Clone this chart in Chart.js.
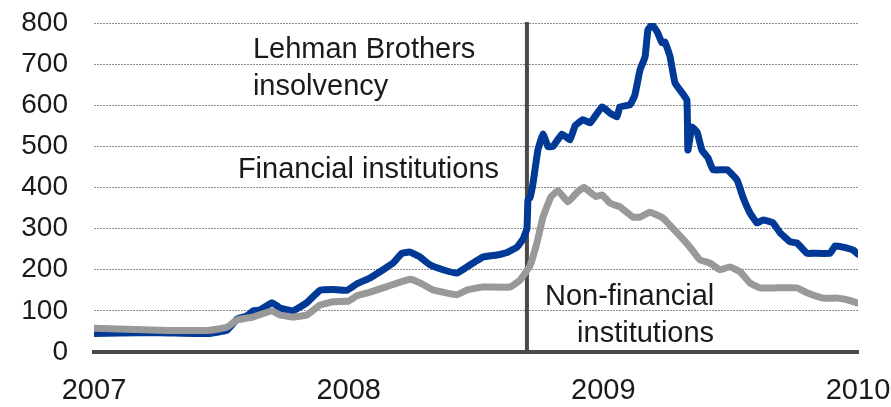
<!DOCTYPE html>
<html>
<head>
<meta charset="utf-8">
<script src="https://cdn.jsdelivr.net/npm/chart.js@4"></script>
<style>
    html, body { margin: 0; padding: 0; background: #fff; }
    #wrap { width: 891px; height: 407px; }
</style>
</head>
<body>
<div id="wrap"><canvas id="chart" width="891" height="407"></canvas></div>
<script>
// decimal years and index values
const finYears = [
    2007.000, 2007.102, 2007.259, 2007.455, 2007.522, 2007.562, 2007.601, 2007.624, 2007.652, 2007.699,
    2007.730, 2007.781, 2007.836, 2007.887, 2007.938, 2007.993, 2008.033, 2008.084, 2008.135, 2008.174,
    2008.209, 2008.241, 2008.280, 2008.319, 2008.370, 2008.425, 2008.465, 2008.527, 2008.582, 2008.622,
    2008.661, 2008.685, 2008.700, 2008.704, 2008.712, 2008.724, 2008.743, 2008.763, 2008.783, 2008.802,
    2008.838, 2008.869, 2008.889, 2008.920, 2008.948, 2008.995, 2009.026, 2009.054, 2009.065, 2009.105,
    2009.124, 2009.144, 2009.164, 2009.175, 2009.191, 2009.211, 2009.230, 2009.242, 2009.262, 2009.281,
    2009.301, 2009.328, 2009.332, 2009.348, 2009.368, 2009.387, 2009.411, 2009.431, 2009.486, 2009.525,
    2009.548, 2009.576, 2009.603, 2009.627, 2009.666, 2009.694, 2009.733, 2009.760, 2009.800, 2009.823,
    2009.890, 2009.910, 2009.941, 2009.980, 2010.000,
];
const finValues = [
    45, 46, 47, 45, 53, 80, 88, 100, 102, 120,
    107, 100, 120, 150, 152, 150, 166, 180, 200, 216,
    240, 243, 231, 212, 200, 192, 207, 231, 236, 242,
    255, 275, 300, 370, 375, 411, 491, 530, 499, 500,
    530, 516, 550, 565, 557, 596, 581, 572, 596, 601,
    625, 686, 718, 783, 796, 779, 752, 754, 718, 655,
    637, 613, 491, 547, 535, 491, 472, 443, 443, 418,
    377, 338, 314, 321, 314, 290, 268, 265, 240, 240,
    240, 258, 255, 248, 238,
];

const nonYears = [
    2007.000, 2007.259, 2007.455, 2007.522, 2007.562, 2007.624, 2007.699, 2007.730, 2007.781, 2007.836,
    2007.887, 2007.938, 2008.000, 2008.033, 2008.075, 2008.135, 2008.202, 2008.241, 2008.280, 2008.331,
    2008.425, 2008.465, 2008.527, 2008.633, 2008.673, 2008.712, 2008.739, 2008.763, 2008.794, 2008.822,
    2008.861, 2008.900, 2008.924, 2008.971, 2008.995, 2009.026, 2009.065, 2009.116, 2009.144, 2009.183,
    2009.234, 2009.289, 2009.340, 2009.379, 2009.419, 2009.458, 2009.497, 2009.537, 2009.576, 2009.615,
    2009.682, 2009.760, 2009.800, 2009.863, 2009.918, 2009.957, 2010.000,
];
const nonValues = [
    58, 53, 53, 60, 78, 85, 100, 90, 85, 90,
    114, 122, 124, 137, 144, 156, 170, 177, 168, 151,
    139, 151, 158, 158, 175, 210, 265, 328, 377, 392,
    365, 390, 400, 378, 382, 362, 353, 328, 328, 340,
    326, 290, 255, 224, 216, 200, 207, 195, 168, 156,
    156, 156, 144, 131, 131, 127, 119,
];

const yTicks = [0, 100, 200, 300, 400, 500, 600, 700, 800];
const xTicks = [2007, 2008, 2009, 2010];
const LEHMAN = 2008.7;

// text notes anchored in data units: [text, year (left edge), value (middle)]
const notes = [
    ['Lehman Brothers', 2007.624, 735],
    ['insolvency', 2007.624, 645],
    ['Financial institutions', 2007.565, 443],
    ['Non-financial', 2008.771, 133],
    ['institutions', 2008.897, 44],
];

const FONT = '"Liberation Sans", Arial, sans-serif';
const INK = '#1a1a1a';
const AXIS = '#4d4948';

const toPoints = (xs, ys) => xs.map((x, i) => ({ x, y: ys[i] }));

const lehmanLine = {
    id: 'lehmanLine',
    beforeDatasetsDraw(chart) {
        const { ctx, scales: { x, y } } = chart;
        const px = x.getPixelForValue(LEHMAN);
        ctx.save();
        ctx.strokeStyle = AXIS;
        ctx.lineWidth = 4;
        ctx.beginPath();
        ctx.moveTo(px, y.getPixelForValue(800) - 1);
        ctx.lineTo(px, y.getPixelForValue(0));
        ctx.stroke();
        ctx.restore();
    },
    afterDatasetsDraw(chart) {
        const { ctx, scales: { x, y } } = chart;
        ctx.save();
        ctx.font = '29px ' + FONT;
        ctx.fillStyle = INK;
        ctx.textAlign = 'left';
        ctx.textBaseline = 'middle';
        notes.forEach(([text, year, value]) => {
            ctx.fillText(text, x.getPixelForValue(year), y.getPixelForValue(value));
        });
        ctx.restore();
    },
};

new Chart(document.getElementById('chart'), {
    type: 'line',
    data: {
        datasets: [
            {
                label: 'Non-financial institutions',
                data: toPoints(nonYears, nonValues),
                borderColor: '#999999',
                borderWidth: 7,
            },
            {
                label: 'Financial institutions',
                data: toPoints(finYears, finValues),
                borderColor: '#003a96',
                borderWidth: 7,
            },
        ],
    },
    options: {
        responsive: false,
        animation: false,
        events: [],
        elements: {
            point: { radius: 0 },
            line: { tension: 0.1, borderJoinStyle: 'round', borderCapStyle: 'round' },
        },
        layout: { padding: { top: 23, right: 33, left: 0, bottom: 0 } },
        plugins: { legend: { display: false }, tooltip: { enabled: false } },
        scales: {
            x: {
                type: 'linear',
                min: 2007,
                max: 2010,
                afterBuildTicks: (scale) => { scale.ticks = xTicks.map(value => ({ value })); },
                ticks: {
                    callback: (v) => String(v),
                    font: { family: FONT, size: 29 },
                    color: INK,
                    padding: 22,
                    maxRotation: 0,
                },
                grid: { display: false, drawTicks: false },
                border: { display: true, color: AXIS, width: 4 },
                afterFit: (scale) => {
                    scale.height = 55;
                    scale.paddingLeft = 0;
                    scale.paddingRight = 0;
                },
            },
            y: {
                min: 0,
                max: 800,
                afterBuildTicks: (scale) => { scale.ticks = yTicks.map(value => ({ value })); },
                ticks: {
                    font: { family: FONT, size: 28 },
                    color: INK,
                    padding: 26,
                },
                grid: { color: '#8c8c8c', lineWidth: 1, drawTicks: false },
                border: { display: false, dash: [2, 1] },
                afterFit: (scale) => {
                    scale.width = 94;
                    scale.paddingTop = 0;
                    scale.paddingBottom = 0;
                },
            },
        },
    },
    plugins: [lehmanLine],
});
</script>
</body>
</html>
